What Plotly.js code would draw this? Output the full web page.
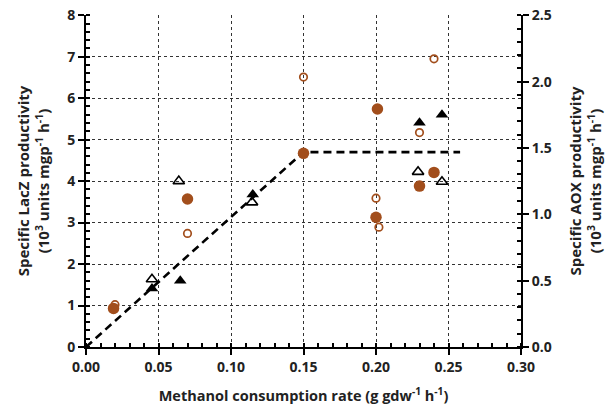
<!DOCTYPE html>
<html>
<head>
<meta charset="utf-8">
<script src="https://cdn.plot.ly/plotly-3.0.1.min.js"></script>
<style>html,body{margin:0;padding:0;background:#fff;}#chart{width:611px;height:414px;}</style>
</head>
<body>
<div id="chart"></div>
<script>
// LacZ (left axis, 10^3 units mgp^-1 h^-1)
const lacFilledX = [0.019, 0.070, 0.150, 0.201, 0.200, 0.230, 0.240];
const lacFilledY = [0.93, 3.57, 4.67, 5.74, 3.13, 3.88, 4.21];
const lacOpenX = [0.020, 0.070, 0.150, 0.240, 0.230, 0.200, 0.202];
const lacOpenY = [1.02, 2.74, 6.51, 6.95, 5.17, 3.59, 2.89];
// AOX (right axis)
const aoxFilledX = [0.0455, 0.065, 0.115, 0.230, 0.2455];
const aoxFilledY = [0.44, 0.50, 1.15, 1.69, 1.75];
const aoxOpenX = [0.0455, 0.064, 0.1145, 0.229, 0.2455];
const aoxOpenY = [0.51, 1.25, 1.09, 1.32, 1.245];
// Model line
const fitX = [0.0, 0.150, 0.258];
const fitY = [0.0, 4.70, 4.70];

const brown = '#A24E1C';
const font = "'Open Sans', sans-serif";
const txt = '#222222';
// tiny headroom so the top gridline at 8 is drawn as a dotted frame line
const yTop = 8.006;
const y2Top = 2.5 * yTop / 8;

const traces = [
  {x: fitX, y: fitY, mode: 'lines', line: {color: '#000000', width: 2.6, dash: '8px,5px'}},
  {x: lacFilledX, y: lacFilledY, mode: 'markers', marker: {symbol: 'circle', size: 11.5, color: brown}},
  {x: lacOpenX, y: lacOpenY, mode: 'markers', marker: {symbol: 'circle-open', size: 7.5, color: brown, line: {width: 1.7, color: brown}}},
  {x: aoxFilledX, y: aoxFilledY, yaxis: 'y2', mode: 'markers', marker: {symbol: 'triangle-up', size: 11, color: '#000000'}},
  {x: aoxOpenX, y: aoxOpenY, yaxis: 'y2', mode: 'markers', marker: {symbol: 'triangle-up-open', size: 10, color: '#000000', line: {width: 1.6, color: '#000000'}}}
];

const layout = {
  width: 611, height: 414, showlegend: false,
  margin: {l: 86, r: 90, t: 15, b: 67},
  font: {family: font, color: txt},
  xaxis: {
    range: [0, 0.30], dtick: 0.05, tickformat: '.2f',
    showgrid: true, gridcolor: '#333333', gridwidth: 1, griddash: 'dot',
    zeroline: false, showline: true, linewidth: 2, linecolor: '#000000',
    ticks: 'outside', ticklen: 6, tickwidth: 2, tickcolor: '#000000',
    minor: {dtick: 0.01, ticks: 'inside', ticklen: 4},
    tickfont: {family: font, size: 14, color: txt, weight: 700},
    title: {text: 'Methanol consumption rate (g gdw<sup>-1</sup> h<sup>-1</sup>)', font: {family: font, size: 14.5, color: txt, weight: 700}, standoff: 16}
  },
  yaxis: {
    range: [0, yTop], dtick: 1,
    showgrid: true, gridcolor: '#333333', gridwidth: 1, griddash: 'dot',
    zeroline: false, showline: true, linewidth: 2, linecolor: '#000000',
    ticks: 'outside', ticklen: 6, tickwidth: 2, tickcolor: '#000000',
    minor: {dtick: 0.2, ticks: 'inside', ticklen: 4},
    tickfont: {family: font, size: 14, color: txt, weight: 700},
    title: {text: 'Specific LacZ productivity<br>(10<sup>3</sup> units mgp<sup>-1</sup> h<sup>-1</sup>)', font: {family: font, size: 15, color: txt, weight: 700}, standoff: 14}
  },
  yaxis2: {
    range: [0, y2Top], dtick: 0.5, tickformat: '.1f',
    overlaying: 'y', side: 'right',
    showgrid: false, zeroline: false, showline: true, linewidth: 2, linecolor: '#000000',
    ticks: 'outside', ticklen: 6, tickwidth: 2, tickcolor: '#000000',
    minor: {dtick: 0.1, ticks: 'inside', ticklen: 4},
    tickfont: {family: font, size: 14, color: txt, weight: 700},
    title: {text: 'Specific AOX productivity<br>(10<sup>3</sup> units mgp<sup>-1</sup> h<sup>-1</sup>)', font: {family: font, size: 15, color: txt, weight: 700}, standoff: 20}
  }
};

Plotly.newPlot('chart', traces, layout, {displayModeBar: false, staticPlot: true});
</script>
</body>
</html>
